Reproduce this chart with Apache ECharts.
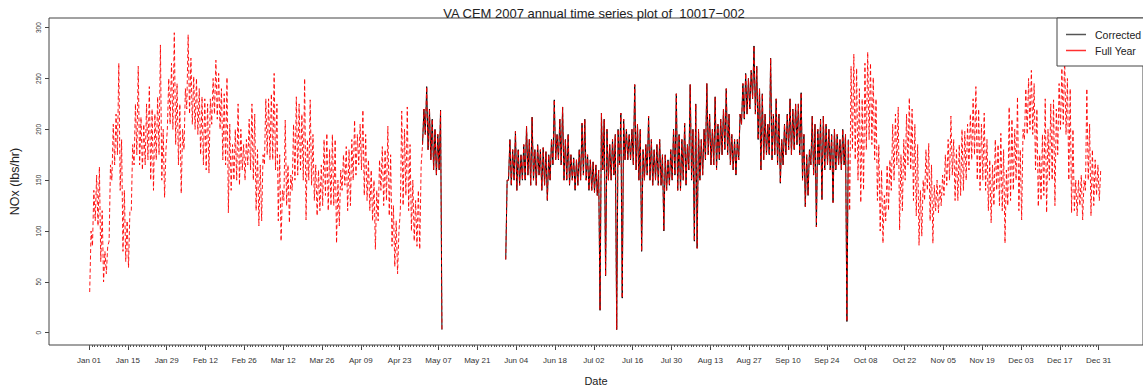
<!DOCTYPE html>
<html><head><meta charset="utf-8">
<script src="https://cdn.jsdelivr.net/npm/echarts@6/dist/echarts.min.js"></script>
<style>html,body{margin:0;padding:0;background:#fff}#c{width:1143px;height:391px}</style>
</head><body><div id="c"></div>
<script>
const titleText = 'VA CEM 2007 annual time series plot of  10017\u2212002';
const xTitle = 'Date';
const yTitle = 'NOx (lbs/hr)';
const seriesNames = ['Corrected', 'Full Year'];

// x tick positions (days since Jan 01 2007) and their labels
const tickDays = [0,14,28,42,56,70,84,98,112,126,140,154,168,182,196,210,224,238,252,266,280,294,308,322,336,350,364];
const tickLabels = ['Jan 01','Jan 15','Jan 29','Feb 12','Feb 26','Mar 12','Mar 26','Apr 09','Apr 23','May 07','May 21','Jun 04','Jun 18','Jul 02','Jul 16','Jul 30','Aug 13','Aug 27','Sep 10','Sep 24','Oct 08','Oct 22','Nov 05','Nov 19','Dec 03','Dec 17','Dec 31'];
const yTicks = [0,50,100,150,200,250,300];

// Full Year series: daily low / high NOx values (lbs/hr), day 0 = Jan 01
const fullLow = [
 40,85,110,105,70,50,58,90,150,165,
 175,140,80,70,64,120,165,175,165,160,
 165,170,150,140,170,175,150,133,200,205,
 200,185,165,137,180,220,215,205,200,195,
 175,165,160,157,205,215,210,200,170,165,
 118,140,150,150,145,160,150,165,160,150,
 120,105,110,165,175,170,170,160,110,90,
 130,125,108,140,150,155,160,150,111,150,
 145,130,115,120,125,135,120,125,125,88,
 105,140,145,120,125,150,155,165,160,135,
 130,120,110,82,110,140,125,130,115,85,
 65,58,120,125,135,120,100,90,85,82,
 185,195,180,170,160,155,160,3,null,null,
 null,null,null,null,null,null,null,null,null,null,
 null,null,null,null,null,null,null,null,null,null,
 72,150,145,150,140,145,150,150,155,145,
 150,145,155,140,145,130,150,165,170,170,
 165,150,150,145,150,140,145,150,155,150,
 140,140,138,135,22,160,56,150,150,155,
 3,165,34,170,170,170,165,160,150,80,
 150,155,150,145,150,145,145,100,140,145,
 150,155,140,140,150,145,160,150,90,83,
 150,155,170,175,165,165,160,170,175,180,
 175,165,160,155,170,205,210,215,220,230,
 215,190,160,170,175,175,170,175,165,147,
 165,175,180,175,180,185,175,150,124,135,
 165,155,104,165,131,160,165,160,128,160,
 165,160,165,11,120,180,170,150,128,140,
 180,190,185,170,130,100,88,110,120,140,
 150,165,101,120,150,165,160,130,115,86,
 95,130,140,110,88,120,118,125,135,145,
 150,155,130,130,135,140,150,160,170,175,
 150,140,150,140,120,108,125,140,125,120,
 88,125,130,140,150,120,111,190,195,200,
 195,160,124,130,135,118,150,150,125,175,
 200,205,195,150,118,120,115,125,111,140,
 150,115,125,135,130
];
const fullHigh = [
 100,140,155,163,120,80,85,165,205,215,
 265,190,140,110,120,185,225,262,212,205,
 225,242,220,215,232,283,200,180,250,265,
 295,245,225,200,240,293,270,252,250,240,
 232,230,225,230,250,268,255,240,235,251,
 205,185,200,225,200,185,190,210,225,215,
 180,165,175,230,230,235,255,225,175,140,
 209,165,155,205,232,225,215,250,190,229,
 195,165,160,165,190,196,180,195,190,150,
 160,175,183,180,190,209,195,205,219,195,
 170,160,150,140,170,183,180,203,175,125,
 110,100,218,200,222,185,150,130,140,165,
 220,242,220,210,200,195,219,null,null,null,
 null,null,null,null,null,null,null,null,null,null,
 null,null,null,null,null,null,null,null,null,null,
 150,190,180,198,180,175,185,203,190,212,
 180,185,180,182,178,175,190,229,195,210,
 222,190,195,175,172,170,180,206,210,175,
 170,168,165,160,216,210,200,185,190,195,
 200,216,210,200,195,200,244,205,200,180,
 185,213,190,180,185,190,175,175,170,180,
 200,235,195,190,206,185,244,200,225,200,
 190,200,245,215,200,232,205,210,220,240,
 215,195,190,190,215,245,255,250,258,282,
 262,240,235,215,205,270,215,230,215,190,
 205,215,230,220,225,225,236,195,175,180,
 213,205,200,210,213,205,200,195,200,195,
 190,200,195,190,262,274,260,240,230,265,
 276,265,251,230,185,160,135,165,170,205,
 215,222,175,190,215,231,220,205,185,140,
 150,180,186,165,145,150,145,155,175,190,
 213,190,180,185,200,198,205,215,230,242,
 220,205,216,190,170,165,190,185,196,180,
 160,222,210,200,232,180,200,240,250,258,
 245,220,175,195,230,200,225,229,220,245,
 260,271,250,240,200,150,150,155,150,240,
 205,180,170,165,160
];
// Day ranges where the Corrected series has data (same values as Full Year there)
const correctedRanges = [[120,127],[150,273]];

function pointsFor(from, to) {
  const pts = [];
  for (let d = from; d <= to; d++) {
    const lo = fullLow[d], hi = fullHigh[d];
    pts.push([d + 0.25, lo == null ? '-' : lo]);
    pts.push([d + 0.75, hi == null ? '-' : hi]);
  }
  return pts;
}
const fullData = pointsFor(0, fullLow.length - 1);
let corrData = [];
correctedRanges.forEach((r, i) => {
  if (i > 0) corrData.push([r[0] - 0.5, '-']);
  corrData = corrData.concat(pointsFor(r[0], r[1]));
});

const minorDays = [];
for (let d = 0; d <= 364; d++) minorDays.push(d);

const FONT = "'Liberation Sans', Arial, Helvetica, sans-serif";
const chart = echarts.init(document.getElementById('c'), null, {renderer: 'svg'});
chart.setOption({
  animation: false,
  backgroundColor: '#fff',
  title: {
    text: titleText, left: 589, top: 2, textAlign: 'center',
    textStyle: {fontFamily: FONT, fontSize: 13, fontWeight: 'normal', color: '#222'}
  },
  legend: {
    orient: 'vertical', left: 1057, top: 18,
    padding: [11, 30, 10, 9], itemWidth: 20, itemHeight: 1.5, itemGap: 5,
    icon: 'rect',
    backgroundColor: '#fff', borderColor: '#444', borderWidth: 1,
    textStyle: {fontFamily: FONT, fontSize: 10.5, color: '#222', padding: [0, 0, 0, 4]},
    data: [
      {name: seriesNames[0], itemStyle: {color: '#555'}},
      {name: seriesNames[1], itemStyle: {color: '#ff3030'}}
    ]
  },
  grid: {left: 43, top: 18, width: 1102, height: 327, show: true, borderColor: '#444', borderWidth: 1, containLabel: false},
  xAxis: [{
    type: 'value', min: -14.42, max: 380.0,
    name: xTitle, nameLocation: 'middle', nameGap: 30,
    nameTextStyle: {fontFamily: FONT, fontSize: 11, color: '#222'},
    axisLine: {show: false, onZero: false}, splitLine: {show: false},
    axisTick: {show: true, length: 5, customValues: tickDays, lineStyle: {color: '#444'}},
    axisLabel: {show: true, customValues: tickDays, margin: 11, fontFamily: FONT, fontSize: 8, color: '#333',
      formatter: v => { const i = tickDays.indexOf(Math.round(v)); return i >= 0 ? tickLabels[i] : ''; }}
  }, {
    type: 'value', min: -14.42, max: 380.0, position: 'bottom', gridIndex: 0,
    axisLine: {show: false, onZero: false}, splitLine: {show: false}, axisLabel: {show: false},
    axisTick: {show: true, length: 2, customValues: minorDays, lineStyle: {color: '#555'}}
  }],
  yAxis: {
    type: 'value', min: -12.1, max: 309.5,
    name: yTitle, nameLocation: 'middle', nameGap: 28, nameRotate: 90,
    nameTextStyle: {fontFamily: FONT, fontSize: 12.5, color: '#222'},
    axisLine: {show: false, onZero: false}, splitLine: {show: false},
    axisTick: {show: true, length: 4, customValues: yTicks, lineStyle: {color: '#444'}},
    axisLabel: {show: true, customValues: yTicks, rotate: 90, margin: 7, fontFamily: FONT, fontSize: 6.5, color: '#333'}
  },
  series: [{
    name: seriesNames[0], type: 'line', data: corrData, symbol: 'none', connectNulls: false,
    color: '#000', lineStyle: {color: '#000', width: 1}, z: 2
  }, {
    name: seriesNames[1], type: 'line', data: fullData, symbol: 'none', connectNulls: false,
    color: '#ff0000', lineStyle: {color: '#ff0000', width: 1, type: [4, 2.5], opacity: 0.9}, z: 3
  }]
});
</script></body></html>
